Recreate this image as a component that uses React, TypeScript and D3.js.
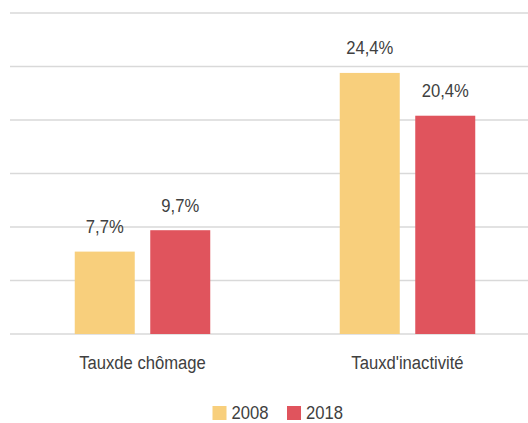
import React from "react";
import * as d3 from "d3";

const categories = ["Taux de chômage", "Taux d'inactivité"];
const categoryLabels = ["Tauxde chômage", "Tauxd'inactivité"];
const seriesNames = ["2008", "2018"];
const values2008 = [7.7, 24.4];
const values2018 = [9.7, 20.4];
const valueLabels2008 = ["7,7%", "24,4%"];
const valueLabels2018 = ["9,7%", "20,4%"];
const yTicks = [0, 5, 10, 15, 20, 25, 30];
const colors = ["#F8CF7C", "#E0545D"];

const W = 528;
const H = 423;
const FONT = "'Liberation Sans', Arial, sans-serif";
const SX = 0.9;

function NText({ x, y, anchor, children }: { x: number; y: number; anchor?: string; children: React.ReactNode }) {
  return (
    <text
      transform={`translate(${x},${y}) scale(${SX},1)`}
      textAnchor={anchor || "start"}
      fontSize={18.5}
      fill="#404040"
    >
      {children}
    </text>
  );
}

export default function App() {
  const x = d3.scaleBand<string>().domain(categories).range([10, 540]);
  const y = d3.scaleLinear().domain([0, 30]).range([334, 13]);
  const groupW = 135.5;
  const off = (x.bandwidth() - groupW) / 2;
  const inner = d3.scaleBand<string>().domain(seriesNames).range([off, off + groupW]).paddingInner(0.2053).paddingOuter(0);
  const series = [values2008, values2018];
  const labels = [valueLabels2008, valueLabels2018];

  return (
    <svg width={W} height={H} style={{ position: "absolute", left: 0, top: 0, background: "#fff" }} fontFamily={FONT}>
      {yTicks.map((t) => (
        <line key={t} x1={10} x2={W} y1={y(t)} y2={y(t)} stroke="#D9D9D9" strokeWidth={1.5} />
      ))}
      {categories.map((c, ci) => (
        <g key={c}>
          {seriesNames.map((s, si) => {
            const bx = (x(c) as number) + (inner(s) as number);
            const v = series[si][ci];
            return (
              <g key={s}>
                <rect x={bx} y={y(v)} width={inner.bandwidth()} height={y(0) - y(v)} fill={colors[si]} />
                <NText x={bx + inner.bandwidth() / 2} y={y(v) - 18.5} anchor="middle">
                  {labels[si][ci]}
                </NText>
              </g>
            );
          })}
          <NText x={(x(c) as number) + x.bandwidth() / 2} y={369} anchor="middle">
            {categoryLabels[ci]}
          </NText>
        </g>
      ))}
      {seriesNames.map((s, si) => {
        const lx = 212.5 + si * 74.5;
        return (
          <g key={s}>
            <rect x={lx} y={406} width={14} height={14} fill={colors[si]} />
            <NText x={lx + 19} y={418.5}>{s}</NText>
          </g>
        );
      })}
    </svg>
  );
}
